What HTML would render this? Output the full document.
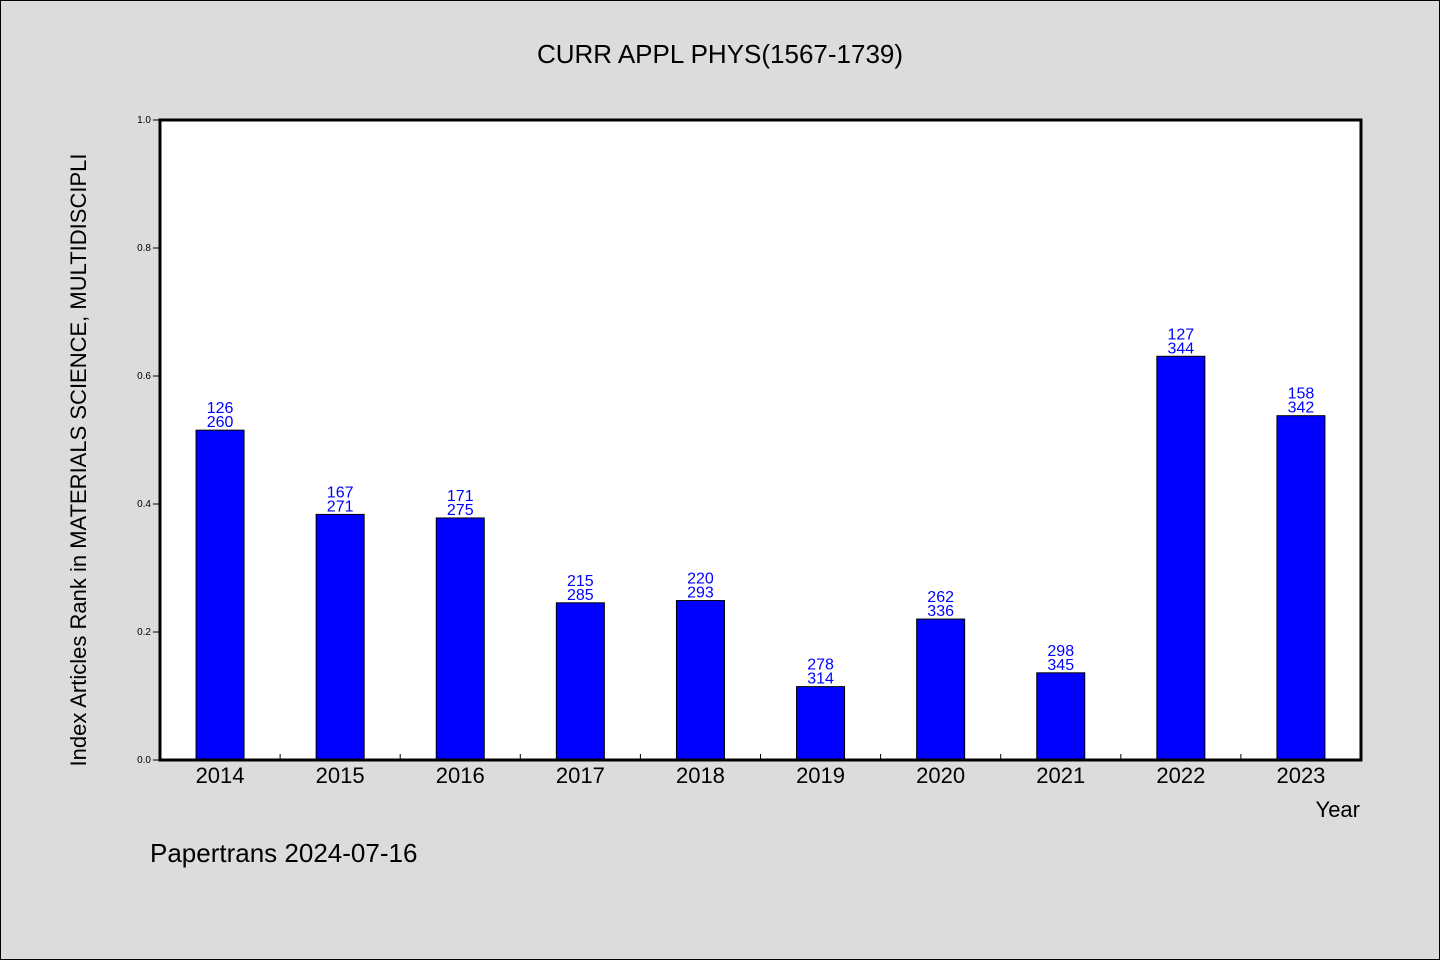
<!DOCTYPE html>
<html><head><meta charset="utf-8"><style>
body{margin:0;background:#dcdcdc;}
svg{display:block;font-family:"WenQuanYi Zen Hei","Liberation Sans",sans-serif;}
</style></head><body>
<svg id="chart" width="1440" height="960" xmlns="http://www.w3.org/2000/svg">
<rect x="0.5" y="0.5" width="1439" height="959" fill="#dcdcdc" stroke="#000"/>
<text x="720" y="63" font-size="26" text-anchor="middle">CURR APPL PHYS(1567-1739)</text>
<rect x="160" y="120" width="1201" height="640" fill="#fff"/>
<g id="marks"></g>
<rect x="160" y="120" width="1201" height="640" fill="none" stroke="#000" stroke-width="3"/>
<text x="1360" y="817" font-size="22" text-anchor="end">Year</text>
<text transform="translate(86,460) rotate(-90)" font-size="22" text-anchor="middle">Index Articles Rank in MATERIALS SCIENCE, MULTIDISCIPLI</text>
<text x="150" y="862" font-size="26">Papertrans 2024-07-16</text>
</svg>
<script>
const years=["2014","2015","2016","2017","2018","2019","2020","2021","2022","2023"];
const ranks=[126,167,171,215,220,278,262,298,127,158];
const totals=[260,271,275,285,293,314,336,345,344,342];
const yTicks=["0.0","0.2","0.4","0.6","0.8","1.0"];
const NS="http://www.w3.org/2000/svg";
const g=document.getElementById('marks');
const x0=160,pw=1201,y0=760,ph=640;
const bw=pw/years.length;
const xs=i=>x0+bw*(i+0.5);
const ys=v=>y0-v*ph;
function mk(t,a){const e=document.createElementNS(NS,t);for(const k in a)e.setAttribute(k,a[k]);g.appendChild(e);return e;}
yTicks.forEach(t=>{
  const y=ys(parseFloat(t));
  const l=mk('line',{x1:153,x2:160,y1:y,y2:y,stroke:'#000'});
  
  
  const tx=mk('text',{x:151,y:y+3,'font-size':10,'text-anchor':'end'});
  tx.textContent=t;
  
  
});
years.forEach((yr,i)=>{
  const v=1-ranks[i]/totals[i];
  const cx=xs(i);
  const r=mk('rect',{x:cx-24,y:ys(v),width:48,height:v*ph,fill:'#0000ff',stroke:'#000','stroke-width':1});
  
  
  const t1=mk('text',{x:cx,y:ys(v)-17,'font-size':16,fill:'#0000ff','text-anchor':'middle'});
  t1.textContent=ranks[i];
  
  
  const t2=mk('text',{x:cx,y:ys(v)-3,'font-size':16,fill:'#0000ff','text-anchor':'middle'});
  t2.textContent=totals[i];
  
  
  const xl=mk('text',{x:cx,y:783,'font-size':22,'text-anchor':'middle'});
  xl.textContent=yr;
  
  
  if(i>0){
    const tk=mk('line',{x1:x0+bw*i,x2:x0+bw*i,y1:y0,y2:y0-6,stroke:'#000'});
    
    
  }
});
</script>
</body></html>
